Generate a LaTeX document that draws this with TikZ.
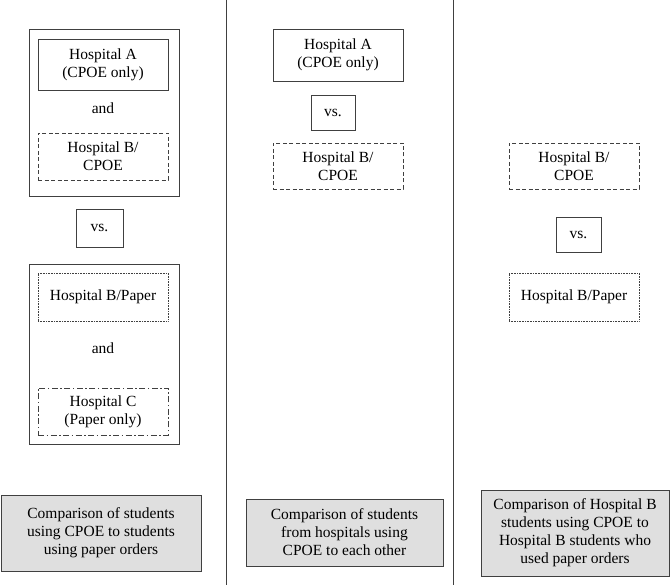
\documentclass[tikz,border=0pt]{standalone}
\usepackage{fontspec}
\setmainfont{Liberation Serif}
\begin{document}
\begin{tikzpicture}[x=1pt,y=-1pt,
  every node/.style={font=\fontsize{15.5}{18}\selectfont, align=center, inner sep=0pt},
  frame/.style={draw=black!75, line width=0.8pt, rectangle},
  solidbox/.style={frame},
  dashbox/.style={frame, dash pattern=on 4pt off 2.5pt},
  dotbox/.style={frame, line width=0.6pt, dash pattern=on 0.8pt off 0.8pt},
  dashdotbox/.style={frame, dash pattern=on 6pt off 2.5pt on 1.5pt off 2.5pt},
  compbox/.style={frame, fill=gray!25},
  sep/.style={draw=black!75, line width=0.8pt}]
\useasboundingbox (0,0) rectangle (670,585);
% separators
\coordinate (s1t) at (226,0); \coordinate (s1b) at (226,585);
\coordinate (s2t) at (453,0); \coordinate (s2b) at (453,585);
\draw[sep] (s1t) -- (s1b);
\draw[sep] (s2t) -- (s2b);
% left column
\node[solidbox, minimum width=150pt, minimum height=167pt] (outer1) at (104,112.5) {};
\node[solidbox, minimum width=130pt, minimum height=51pt] (A1) at (103,64.5) {Hospital A\\(CPOE only)};
\node (and1) at (103,108) {and};
\node[dashbox, minimum width=130pt, minimum height=47pt] (Bc1) at (103,156.5) {Hospital B/\\CPOE};
\node[solidbox, minimum width=47pt, minimum height=38pt] (vs1) at (99.5,228) {vs.};
\node[solidbox, minimum width=150pt, minimum height=180pt] (outer2) at (104,354) {};
\node[dotbox, minimum width=130pt, minimum height=48pt] (Bp1) at (103,297) {Hospital B/Paper};
\node (and2) at (103,348) {and};
\node[dashdotbox, minimum width=130pt, minimum height=47pt] (C1) at (103,411.5) {Hospital C\\(Paper only)};
\node[compbox, minimum width=200pt, minimum height=76pt] (comp1) at (101,533) {Comparison of students\\using CPOE to students\\using paper orders};
% middle column
\node[solidbox, minimum width=130pt, minimum height=52pt] (A2) at (338,55) {Hospital A\\(CPOE only)};
\node[solidbox, minimum width=44pt, minimum height=35pt] (vs2) at (333,112.5) {vs.};
\node[dashbox, minimum width=130pt, minimum height=46pt] (Bc2) at (338,166) {Hospital B/\\CPOE};
\node[compbox, minimum width=197pt, minimum height=67pt] (comp2) at (344.5,532.5) {Comparison of students\\from hospitals using\\CPOE to each other};
% right column
\node[dashbox, minimum width=130pt, minimum height=46pt] (Bc3) at (574,166) {Hospital B/\\CPOE};
\node[solidbox, minimum width=45pt, minimum height=35pt] (vs3) at (578.5,234.5) {vs.};
\node[dotbox, minimum width=130pt, minimum height=48pt] (Bp3) at (574,297) {Hospital B/Paper};
\node[compbox, minimum width=188pt, minimum height=86pt] (comp3) at (575,533) {Comparison of Hospital B\\students using CPOE to\\Hospital B students who\\used paper orders};
\end{tikzpicture}
\end{document}
